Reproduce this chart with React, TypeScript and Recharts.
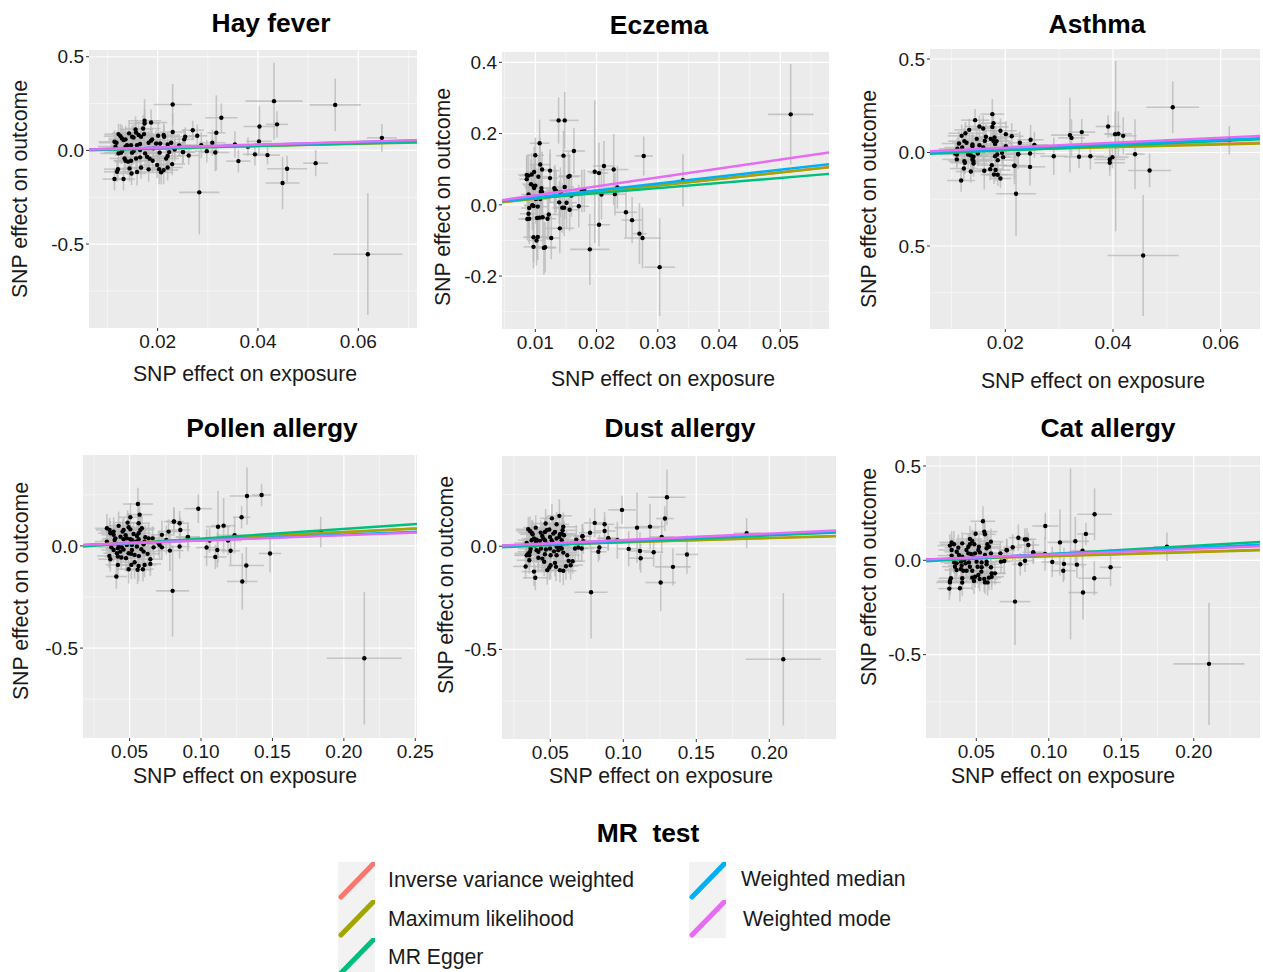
import React from "react";
import {
  CartesianGrid,
  ErrorBar,
  Scatter,
  ScatterChart,
  XAxis,
  YAxis,
} from "recharts";

// method names and colours, same order in every panel
const methods = [
  "Inverse variance weighted",
  "Maximum likelihood",
  "MR Egger",
  "Weighted median",
  "Weighted mode",
];
const methodColors = ["#F8766D", "#A3A500", "#00BF7D", "#00B0F6", "#E76BF3"];

// each point: [exposure, outcome, exposure error, outcome error]
const hayFeverPoints = [
  [.0114,-.153,.0024,.06],[.0132,-.153,.0023,.06],[.0119,-.114,.0026,.055],[.0121,-.1,.0028,.06],[.0144,-.096,.0027,.07],
  [.0148,-.123,.0029,.062],[.0159,-.115,.0025,.072],[.0167,-.091,.003,.06],[.0182,-.101,.0028,.066],[.0199,-.078,.0033,.07],
  [.0203,-.1,.0027,.08],[.0207,-.117,.0024,.065],[.0212,-.105,.0029,.075],[.022,-.091,.003,.07],[.0229,-.073,.0026,.06],
  [.0134,-.043,.003,.06],[.0136,-.055,.0024,.058],[.0141,-.06,.0027,.07],[.0147,-.055,.0032,.062],[.0157,-.043,.0026,.07],
  [.0165,-.037,.0029,.075],[.0179,-.034,.0031,.06],[.0184,-.044,.0028,.07],[.019,-.055,.0034,.066],[.0217,-.043,.0025,.06],
  [.022,-.03,.003,.075],[.0223,-.009,.0027,.07],[.0251,-.009,.0024,.06],[.0262,-.027,.0022,.05],[.0127,-.012,.0033,.06],
  [.0129,-.004,.0028,.068],[.0122,-.016,.0036,.055],[.0149,-.012,.0029,.066],[.0152,-.004,.0031,.07],[.0165,.002,.0026,.063],
  [.0175,-.016,.003,.07],[.0192,.011,.0033,.06],[.0204,-.012,.0028,.072],[.0234,.005,.0034,.065],[.0116,.02,.0035,.05],
  [.0118,.041,.0034,.06],[.0114,.046,.0032,.062],[.0122,.087,.0028,.055],[.0126,.076,.0033,.066],[.0129,.064,.0027,.07],
  [.0132,.055,.003,.06],[.0136,.059,.0025,.072],[.0143,.091,.0034,.065],[.0149,.073,.0029,.06],[.0152,.069,.0032,.07],
  [.0156,.112,.0031,.07],[.0157,.096,.0027,.063],[.0162,.082,.003,.068],[.0167,.073,.0028,.06],[.0171,.117,.0035,.072],
  [.0174,.158,.0033,.115],[.0174,.144,.0031,.075],[.0187,.149,.0032,.07],[.0173,.087,.0029,.066],[.0189,.059,.0027,.06],
  [.0187,.052,.0034,.07],[.0182,.041,.003,.062],[.0159,.028,.0027,.07],[.0165,.034,.0031,.066],[.0147,.028,.0029,.06],
  [.0139,.028,.0033,.068],[.0136,.02,.003,.06],[.0197,.037,.0028,.07],[.0205,.037,.0032,.06],[.0201,.078,.0027,.065],
  [.0212,.082,.003,.07],[.0213,.073,.0026,.06],[.022,.032,.0031,.066],[.0227,.041,.0028,.06],[.023,.098,.0026,.1],
  [.023,.245,.0038,.11],[.0432,.263,.0057,.205],[.0554,.243,.0051,.14],[.0647,.067,.003,.074],[.0327,.174,.0032,.077],
  [.0317,.094,.0018,.2],[.027,.108,.0022,.05],[.0279,.078,.002,.06],[.0255,.073,.0021,.05],[.0253,.059,.002,.055],
  [.0243,.027,.0023,.06],[.0234,.011,.003,.05],[.025,-.009,.0022,.06],[.0287,.028,.003,.07],[.0298,-.004,.0024,.06],
  [.0309,.041,.0026,.07],[.0315,-.011,.0028,.1],[.0354,.032,.0022,.07],[.0361,-.057,.0024,.06],[.038,.02,.002,.05],
  [.0394,-.021,.0024,.06],[.0402,.048,.0026,.07],[.0403,.128,.0032,.11],[.0419,-.025,.0025,.05],[.0438,.139,.0022,.07],
  [.0449,-.174,.0034,.14],[.0458,-.098,.004,.07],[.0515,-.068,.0025,.07],[.0283,-.224,.004,.224],[.0619,-.554,.0069,.325],
];

const eczemaPoints = [
  [.0517,.254,.0037,.141],[.0148,.237,.0023,.08],[.0138,.237,.0015,.065],[.0163,.151,.0018,.065],[.0107,.173,.0016,.066],
  [.01,.139,.0014,.05],[.0146,.138,.0012,.07],[.0108,.113,.0017,.075],[.0111,.099,.0014,.05],[.0086,.084,.0014,.055],
  [.0089,.082,.0015,.06],[.0094,.085,.0016,.06],[.0098,.092,.0014,.07],[.0124,.096,.0015,.06],[.0124,.075,.0013,.07],
  [.0105,.079,.0016,.06],[.0086,.072,.0012,.065],[.0093,.058,.0014,.07],[.0097,.053,.0016,.06],[.01,.054,.0013,.075],
  [.0098,.047,.0015,.06],[.011,.047,.0014,.07],[.0109,.037,.0016,.055],[.0111,.036,.0013,.07],[.0089,.029,.0012,.06],
  [.0131,.047,.0016,.06],[.0132,.042,.0014,.07],[.0134,.039,.0017,.06],[.0148,.05,.0015,.09],[.0154,.079,.0017,.07],
  [.0156,.081,.0018,.06],[.0141,.035,.0016,.07],[.0159,.026,.0018,.06],[.0101,.016,.0015,.07],[.0108,.016,.0013,.06],
  [.0139,.007,.0016,.06],[.0151,.006,.0017,.07],[.0144,-.008,.0016,.07],[.0147,-.008,.0015,.08],[.0156,-.014,.0016,.06],
  [.0171,-.004,.0017,.06],[.0095,-.001,.0014,.07],[.009,-.009,.0013,.06],[.0104,-.005,.0015,.075],[.0097,-.003,.0014,.06],
  [.0089,-.025,.0014,.07],[.0087,-.04,.0015,.06],[.009,-.039,.0013,.07],[.0103,-.037,.0015,.065],[.0107,-.036,.0014,.06],
  [.0112,-.035,.0015,.08],[.012,-.039,.0014,.06],[.0122,-.027,.0016,.07],[.014,-.066,.0023,.07],[.0126,-.093,.0014,.06],
  [.0097,-.091,.0017,.07],[.0104,-.09,.0016,.065],[.0102,-.1,.0014,.07],[.0097,-.118,.0016,.06],[.0114,-.121,.002,.075],
  [.0116,-.119,.0018,.07],[.0176,.039,.0017,.06],[.018,.04,.0022,.06],[.0197,.093,.0012,.2],[.0204,.089,.0015,.085],
  [.0212,.109,.0018,.07],[.0228,.099,.0024,.1],[.0234,.049,.002,.06],[.023,.03,.0017,.06],[.0208,.029,.0018,.07],
  [.0204,-.056,.0018,.06],[.0189,-.125,.0032,.1],[.0248,-.021,.0018,.07],[.0258,-.043,.0017,.065],[.027,-.081,.0012,.085],
  [.0275,-.093,.003,.085],[.0277,.137,.0015,.055],[.0303,-.175,.0025,.137],[.0341,.069,.001,.073],
];

const asthmaPoints = [
  [.0176,.205,.0022,.08],[.0144,.173,.0026,.06],[.0178,.157,.0024,.05],[.0176,.137,.003,.07],[.0152,.139,.0028,.06],
  [.0159,.128,.0026,.07],[.0133,.121,.0028,.06],[.0191,.116,.003,.065],[.0201,.098,.0024,.07],[.0212,.087,.0022,.07],
  [.0126,.103,.0032,.06],[.0119,.089,.0026,.06],[.0124,.061,.003,.07],[.0128,.052,.0027,.06],[.0114,.048,.0032,.065],
  [.0164,.084,.0029,.07],[.0147,.073,.0026,.06],[.0173,.073,.0031,.07],[.018,.08,.0028,.06],[.0162,.062,.0033,.07],
  [.0178,.061,.003,.07],[.0184,.061,.0027,.06],[.0181,.046,.0033,.07],[.0152,.039,.0029,.06],[.0159,.027,.0032,.07],
  [.0139,.043,.0027,.065],[.0139,.034,.0031,.06],[.0227,.052,.0022,.06],[.0247,.068,.0024,.08],[.0254,.041,.0026,.07],
  [.0201,.034,.003,.06],[.012,.027,.0033,.07],[.0111,.02,.0034,.06],[.0107,-.005,.003,.05],[.011,-.011,.0032,.065],
  [.0131,-.011,.003,.07],[.0136,-.016,.0033,.06],[.0149,-.005,.0028,.07],[.0141,-.023,.0031,.065],[.0194,-.002,.0026,.06],
  [.0185,-.011,.003,.07],[.0181,-.02,.0028,.06],[.0224,-.009,.0022,.08],[.0246,-.005,.0028,.07],[.011,-.037,.0027,.05],
  [.0124,-.046,.003,.065],[.0125,-.055,.0027,.06],[.0139,-.037,.0032,.07],[.0141,-.046,.0029,.06],[.0141,-.059,.0026,.07],
  [.0186,-.041,.003,.06],[.0196,-.025,.0024,.07],[.0175,-.068,.0028,.065],[.0217,-.071,.002,.07],[.0246,-.077,.0028,.1],
  [.0123,-.086,.0026,.06],[.0136,-.102,.0028,.06],[.0161,-.098,.0029,.1],[.0172,-.089,.0024,.06],[.0182,-.094,.0028,.06],
  [.0179,-.118,.0025,.05],[.0186,-.119,.0028,.06],[.0191,-.139,.002,.05],[.0118,-.15,.0026,.06],[.022,-.221,.0037,.225],
  [.0511,.242,.0049,.138],[.0616,.066,.003,.076],[.0456,-.551,.0066,.324],[.0405,.034,.002,.455],[.0404,.098,.002,.12],[.041,.1,.0025,.12],
  [.0419,.089,.0025,.1],[.0391,.139,.0023,.06],[.0342,.109,.0025,.07],[.032,.093,.0035,.2],[.0323,.078,.0025,.1],
  [.029,-.02,.0025,.1],[.0337,-.023,.0028,.06],[.0358,-.02,.0026,.07],[.0394,-.037,.0029,.06],[.0394,-.055,.0028,.07],
  [.0399,-.025,.003,.06],[.0441,-.009,.0018,.187],[.0468,-.096,.004,.09],[.0217,-.07,.0028,.1],[.0224,-.009,.002,.07],
];

const pollenPoints = [
  [.0558,.205,.0105,.08],[.0981,.182,.0097,.07],[.057,.153,.009,.07],[.0505,.14,.0085,.07],[.081,.119,.007,.06],
  [.085,.111,.0065,.06],[.0563,.111,.008,.07],[.0486,.114,.0095,.06],[.0423,.098,.0085,.07],[.0341,.086,.0085,.07],
  [.036,.078,.0095,.06],[.0365,.062,.0085,.06],[.0388,.07,.009,.07],[.0458,.078,.008,.06],[.0493,.091,.0095,.07],
  [.0505,.081,.009,.06],[.0451,.07,.0085,.06],[.0575,.078,.0095,.07],[.0586,.086,.009,.06],[.0563,.062,.0085,.07],
  [.0551,.049,.009,.065],[.061,.042,.0075,.06],[.0855,.078,.007,.06],[.0773,.07,.0075,.06],[.0726,.054,.008,.07],
  [.0908,.042,.0085,.07],[.0388,.054,.0085,.06],[.04,.037,.009,.07],[.0395,.029,.0095,.06],[.0341,.021,.0085,.06],
  [.0458,.033,.0095,.07],[.0481,.037,.0085,.06],[.0505,.033,.0095,.065],[.0516,.029,.009,.07],[.0563,.033,.0085,.06],
  [.0633,.037,.009,.07],[.0661,.037,.0085,.06],[.0703,.013,.009,.06],[.0757,.029,.0075,.07],[.0423,.005,.0095,.07],
  [.0481,.005,.009,.06],[.0516,.005,.0095,.07],[.0551,-.003,.0085,.06],[.0598,.008,.009,.065],[.0372,-.007,.009,.07],
  [.0388,-.02,.0085,.06],[.0418,-.011,.0085,.07],[.0446,-.007,.0095,.06],[.0516,-.02,.0095,.07],[.0582,-.016,.0085,.06],
  [.0598,-.028,.009,.065],[.0668,-.007,.0085,.06],[.071,.005,.0085,.07],[.0726,-.007,.0085,.06],[.0782,-.023,.0095,.1],
  [.085,-.003,.0075,.06],[.0358,-.049,.0085,.06],[.0365,-.065,.0085,.06],[.0411,-.036,.0095,.07],[.0435,-.028,.009,.06],
  [.0418,-.052,.0095,.07],[.0442,-.057,.0085,.06],[.0493,-.036,.0095,.065],[.0512,-.039,.0085,.06],[.0535,-.044,.0095,.07],
  [.0626,-.039,.008,.07],[.0645,-.065,.0085,.065],[.0645,-.088,.0075,.06],[.0418,-.093,.0085,.07],[.0512,-.093,.009,.07],
  [.0535,-.08,.0095,.08],[.0563,-.098,.0085,.075],[.0605,-.093,.0085,.06],[.0493,-.114,.0085,.07],[.0556,-.117,.0095,.07],
  [.0593,-.114,.0075,.06],[.0407,-.15,.0075,.06],[.0801,-.22,.0116,.224],[.2143,-.55,.0263,.324],[.1838,.068,.015,.075],
  [.1424,.249,.0067,.055],[.1322,.244,.012,.14],[.1284,.14,.006,.055],[.1158,.099,.0085,.136],[.1119,.094,.0085,.175],
  [.1483,-.037,.0078,.092],[.1317,-.096,.0123,.09],[.1289,-.174,.0107,.138],[.1207,-.024,.0065,.07],[.11,-.054,.008,.06],
  [.1114,-.02,.0065,.085],[.1039,-.008,.0075,.09],[.1235,.052,.012,.09],[.1189,.026,.0095,.07],[.106,.026,.01,.06],
  [.0908,.044,.0085,.06],[.081,.12,.0055,.07],
  [.0472,.052,.009,.065],[.0528,.058,.0085,.06],[.0436,.045,.009,.07],[.0542,.02,.0085,.065],[.0605,.02,.009,.07],
  [.0458,-.018,.0095,.06],[.0565,-.05,.009,.07],[.0475,-.06,.0085,.065],
];

const dustPoints = [
  [.0562,.147,.0085,.08],[.0511,.135,.008,.07],[.0804,.113,.0075,.07],[.0872,.106,.0065,.06],[.0468,.11,.009,.07],
  [.0543,.106,.0085,.06],[.0589,.094,.0095,.07],[.0872,.074,.0075,.065],[.0772,.065,.0075,.07],[.04,.09,.0085,.06],
  [.0349,.082,.0085,.06],[.0361,.074,.0095,.07],[.0372,.065,.009,.06],[.0379,.058,.0085,.07],[.0434,.066,.0095,.06],
  [.0463,.069,.0085,.065],[.0475,.077,.009,.07],[.0493,.081,.0085,.06],[.0521,.061,.0095,.07],[.0532,.069,.0085,.06],
  [.0584,.077,.009,.065],[.0578,.061,.0095,.07],[.0566,.058,.0085,.06],[.0594,.053,.009,.07],[.0562,.045,.0085,.06],
  [.0719,.048,.0065,.06],[.0897,.037,.0075,.06],[.0338,.016,.0085,.07],[.0372,.029,.0095,.06],[.0388,.037,.0085,.07],
  [.0406,.032,.0095,.06],[.0429,.026,.0085,.065],[.0452,.037,.009,.07],[.0463,.029,.0085,.06],[.0498,.045,.0095,.07],
  [.0509,.029,.0085,.06],[.0543,.037,.009,.065],[.0578,.029,.0085,.07],[.0402,.021,.0095,.06],[.0678,.032,.0075,.07],
  [.0726,.024,.0085,.06],[.0361,-.027,.0085,.07],[.0349,-.035,.0095,.06],[.0338,-.044,.0085,.065],[.0356,-.044,.0095,.07],
  [.0406,-.019,.0085,.06],[.0418,-.027,.009,.07],[.0436,-.011,.0085,.06],[.047,-.016,.0095,.07],[.0498,-.011,.0085,.065],
  [.0543,-.003,.009,.07],[.0566,-.003,.0085,.06],[.0578,-.011,.0095,.07],[.0555,-.019,.0085,.06],[.0669,-.011,.0085,.07],
  [.0692,-.006,.0075,.06],[.0715,-.011,.0085,.06],[.0836,-.006,.0055,.06],[.0829,-.027,.0055,.05],[.0418,-.056,.0095,.07],
  [.0445,-.06,.0085,.06],[.0356,-.068,.0085,.065],[.0463,-.039,.009,.07],[.0502,-.044,.0085,.06],[.0543,-.044,.0095,.07],
  [.0589,-.031,.0085,.065],[.0616,-.044,.0085,.07],[.0502,-.092,.009,.07],[.0493,-.103,.0085,.06],[.0479,-.116,.0085,.07],
  [.0532,-.081,.0095,.065],[.0539,-.1,.0085,.07],[.0566,-.116,.0085,.06],[.0589,-.119,.009,.07],[.0607,-.097,.0085,.065],
  [.0639,-.092,.0085,.07],[.0626,-.071,.0095,.06],[.0653,-.073,.0085,.06],[.0331,-.098,.0085,.06],[.0388,-.123,.0085,.07],
  [.0397,-.153,.0085,.06],[.0779,-.223,.0113,.224],[.2096,-.548,.0257,.321],[.1845,.063,.009,.073],[.1299,.237,.0128,.135],
  [.1285,.134,.006,.06],[.1183,.095,.0095,.11],[.1094,.09,.0155,.17],[.0991,.176,.0094,.069],[.1263,.045,.0085,.08],
  [.0959,.029,.0085,.09],[.0897,.039,.0075,.06],[.1114,-.023,.0075,.09],[.1037,-.013,.0075,.085],[.1119,-.058,.0085,.07],
  [.1208,-.029,.0065,.07],[.1436,-.04,.0077,.093],[.134,-.1,.0122,.09],[.1256,-.176,.0104,.139],[.0721,.048,.0055,.06],
  [.0445,.05,.009,.065],[.0515,.02,.0085,.07],[.0475,.012,.0095,.06],[.0395,.004,.009,.065],[.0365,-.012,.0085,.07],
  [.0525,-.025,.009,.06],[.0458,-.075,.0085,.07],
];

const catPoints = [
  [.0546,.207,.0085,.08],[.0555,.152,.009,.07],[.0495,.141,.0085,.06],[.056,.138,.0075,.06],[.0456,.113,.0085,.07],
  [.0472,.102,.009,.06],[.0601,.099,.0085,.07],[.079,.12,.0065,.07],[.0849,.111,.0065,.06],[.0859,.081,.0075,.065],
  [.0751,.069,.0065,.07],[.033,.095,.0085,.06],[.0346,.085,.0095,.07],[.0318,.078,.0085,.06],[.033,.055,.009,.065],
  [.0376,.067,.0095,.07],[.0403,.09,.0085,.06],[.0445,.072,.009,.07],[.0456,.085,.0085,.06],[.0486,.085,.0095,.07],
  [.0518,.072,.0085,.065],[.0576,.085,.009,.07],[.0587,.072,.0085,.06],[.0571,.064,.0095,.07],[.0514,.055,.0085,.06],
  [.0709,.055,.0055,.06],[.0893,.042,.0075,.06],[.033,.025,.0095,.06],[.038,.028,.0085,.07],[.0403,.019,.009,.06],
  [.0445,.037,.0085,.07],[.0463,.034,.0095,.06],[.0491,.037,.0085,.065],[.0525,.042,.009,.07],[.056,.028,.0085,.06],
  [.0666,.037,.0075,.06],[.0601,.037,.0085,.07],[.0348,-.011,.0095,.06],[.0364,-.016,.0085,.07],[.0394,-.007,.009,.06],
  [.0417,.002,.0085,.065],[.0426,-.016,.0095,.07],[.0449,-.011,.0085,.06],[.0353,-.034,.009,.07],[.0364,-.051,.0085,.06],
  [.0399,-.028,.0095,.07],[.0394,-.046,.0085,.065],[.041,-.055,.0085,.07],[.0433,-.055,.0095,.06],[.0456,-.034,.0085,.07],
  [.0502,-.007,.009,.06],[.0537,-.011,.0085,.07],[.0571,-.007,.0095,.06],[.0509,-.034,.0085,.065],[.0537,-.037,.009,.07],
  [.0571,-.021,.0085,.06],[.067,-.007,.0065,.06],[.0693,-.004,.0065,.07],[.0803,-.021,.0055,.06],[.0836,-.002,.0065,.06],
  [.0601,-.037,.0085,.07],[.0606,-.069,.0085,.065],[.0629,-.069,.0075,.06],[.0606,-.087,.0085,.07],[.0325,-.095,.0085,.06],
  [.0318,-.11,.0085,.065],[.0318,-.117,.0095,.07],[.0403,-.095,.0085,.06],[.0403,-.118,.0085,.07],[.0472,-.092,.009,.065],
  [.0484,-.11,.0085,.07],[.0491,-.087,.0095,.06],[.0514,-.078,.0085,.07],[.0523,-.099,.0085,.065],[.0555,-.099,.0095,.07],
  [.056,-.117,.0085,.06],[.0578,-.117,.009,.07],[.0587,-.092,.0085,.065],[.0314,-.15,.0075,.06],[.0387,-.148,.0085,.07],
  [.0767,-.219,.0106,.23],[.2105,-.549,.0245,.324],[.1815,.072,.009,.075],[.1316,.244,.012,.137],[.1256,.14,.006,.06],
  [.1183,.101,.0095,.13],[.1077,.095,.0085,.175],[.115,.034,.0045,.453],[.0976,.182,.009,.071],[.1233,.051,.0085,.09],
  [.0893,.042,.0065,.06],[.0974,.034,.0085,.09],[.1024,-.009,.0075,.08],[.1105,-.019,.0065,.085],[.11,-.055,.0085,.06],
  [.1194,-.023,.0065,.07],[.1426,-.037,.0075,.1],[.1314,-.095,.011,.09],[.1236,-.171,.01,.143],[.0711,.053,.0055,.06],
  [.0835,.11,.006,.06],[.0432,.055,.009,.065],[.0365,.045,.0085,.07],[.0478,.015,.0095,.06],[.0345,.005,.009,.07],
  [.0472,-.055,.0085,.065],[.0535,-.06,.009,.07],
];

// fitted lines: one [startY, endY] per method, drawn across the x range of the panel
const hayFeverLines = [[.004,.046],[.004,.042],[.001,.044],[.005,.053],[.005,.055]];
const eczemaLines = [[.0075,.106],[.0075,.105],[.0103,.087],[.01,.114],[.013,.147]];
const asthmaLines = [[.005,.052],[.004,.048],[-.007,.071],[.003,.077],[.007,.089]];
const pollenLines = [[.004,.086],[.003,.085],[-.003,.107],[.004,.07],[.005,.065]];
const dustLines = [[.002,.05],[.002,.048],[-.005,.066],[.001,.072],[.003,.076]];
const catLines = [[.004,.056],[.003,.053],[-.005,.097],[.002,.083],[.005,.074]];

const panels = [
  {
    title: "Hay fever", points: hayFeverPoints, lines: hayFeverLines,
    xDomain: [.00632, .0717], yDomain: [-.948, .536],
    xTicks: [.02, .04, .06], xLabels: ["0.02", "0.04", "0.06"], xMinor: [.01, .03, .05, .07],
    yTicks: [.5, 0, -.5], yLabels: ["0.5", "0.0", "-0.5"], yMinor: [.25, -.25, -.75],
    plot: [89, 50, 328, 278], titleAt: [271, 23], xTitleAt: [245, 374], yTitleAt: [20, 189],
  },
  {
    title: "Eczema", points: eczemaPoints, lines: eczemaLines,
    xDomain: [.00456, .05795], yDomain: [-.3486, .429],
    xTicks: [.01, .02, .03, .04, .05], xLabels: ["0.01", "0.02", "0.03", "0.04", "0.05"], xMinor: [.005, .015, .025, .035, .045, .055],
    yTicks: [.4, .2, 0, -.2], yLabels: ["0.4", "0.2", "0.0", "-0.2"], yMinor: [.3, .1, -.1, -.3],
    plot: [502, 52, 327, 277], titleAt: [659, 25], xTitleAt: [663, 379], yTitleAt: [443, 197],
  },
  {
    title: "Asthma", points: asthmaPoints, lines: asthmaLines,
    xDomain: [.00602, .0673], yDomain: [-.944, .5535],
    xTicks: [.02, .04, .06], xLabels: ["0.02", "0.04", "0.06"], xMinor: [.01, .03, .05],
    yTicks: [.5, 0, -.5], yLabels: ["0.5", "0.0", "0.5"], yMinor: [.25, -.25, -.75],
    plot: [930, 49, 330, 280], titleAt: [1097, 24], xTitleAt: [1093, 381], yTitleAt: [869, 199],
  },
  {
    title: "Pollen allergy", points: pollenPoints, lines: pollenLines,
    xDomain: [.01737, .2512], yDomain: [-.94, .4448],
    xTicks: [.05, .1, .15, .2, .25], xLabels: ["0.05", "0.10", "0.15", "0.20", "0.25"], xMinor: [.025, .075, .125, .175, .225],
    yTicks: [0, -.5], yLabels: ["0.0", "-0.5"], yMinor: [.25, -.25, -.75],
    plot: [83, 455, 334, 283], titleAt: [272, 428], xTitleAt: [245, 776], yTitleAt: [21, 591],
  },
  {
    title: "Dust allergy", points: dustPoints, lines: dustLines,
    xDomain: [.0169, .2457], yDomain: [-.934, .437],
    xTicks: [.05, .1, .15, .2], xLabels: ["0.05", "0.10", "0.15", "0.20"], xMinor: [.025, .075, .125, .175, .225],
    yTicks: [0, -.5], yLabels: ["0.0", "-0.5"], yMinor: [.25, -.25, -.75],
    plot: [502, 456, 334, 283], titleAt: [680, 428], xTitleAt: [661, 776], yTitleAt: [446, 585],
  },
  {
    title: "Cat allergy", points: catPoints, lines: catLines,
    xDomain: [.0153, .2457], yDomain: [-.942, .553],
    xTicks: [.05, .1, .15, .2], xLabels: ["0.05", "0.10", "0.15", "0.20"], xMinor: [.025, .075, .125, .175, .225],
    yTicks: [.5, 0, -.5], yLabels: ["0.5", "0.0", "-0.5"], yMinor: [.25, -.25, -.75],
    plot: [926, 456, 334, 282], titleAt: [1108, 428], xTitleAt: [1063, 776], yTitleAt: [869, 577],
  },
];

const FONT = "'Liberation Sans', Arial, sans-serif";
const AXIS_LEFT = 80;
const AXIS_BOTTOM = 40;
const PAD_TOP = 10;
const PAD_RIGHT = 25;

function Dot(props: any) {
  return <circle cx={props.cx} cy={props.cy} r={2.2} fill="#000" />;
}

function NoDot() {
  return <g />;
}

function Caption({ at, size, bold, rotate, children }: any) {
  return (
    <div
      style={{
        position: "absolute",
        left: at[0],
        top: at[1],
        transform: `translate(-50%, -50%)${rotate ? " rotate(-90deg)" : ""}`,
        fontFamily: FONT,
        fontSize: size,
        fontWeight: bold ? 700 : 400,
        color: bold ? "#000" : "#1a1a1a",
        whiteSpace: "pre",
      }}
    >
      {children}
    </div>
  );
}

function Panel({ panel }: { panel: (typeof panels)[number] }) {
  const [left, top, w, h] = panel.plot;
  const pointData = panel.points.map(([x, y, xe, ye]) => ({ x, y, xe, ye }));
  const tickStyle = { fill: "#1a1a1a", fontSize: 19, fontFamily: FONT };

  return (
    <div style={{ position: "absolute", left: left - AXIS_LEFT, top: top - PAD_TOP }}>
      <ScatterChart
        width={w + AXIS_LEFT + PAD_RIGHT}
        height={h + PAD_TOP + AXIS_BOTTOM}
        margin={{ top: PAD_TOP, right: PAD_RIGHT, bottom: 0, left: 0 }}
      >
        <CartesianGrid
          fill="#EBEBEB"
          stroke="#fff"
          strokeWidth={0.6}
          strokeOpacity={0.8}
          horizontalValues={panel.yMinor}
          verticalValues={panel.xMinor}
        />
        <CartesianGrid
          stroke="#fff"
          strokeWidth={1.2}
          horizontalValues={panel.yTicks}
          verticalValues={panel.xTicks}
        />
        <XAxis
          type="number"
          dataKey="x"
          domain={panel.xDomain}
          ticks={panel.xTicks}
          interval={0}
          allowDataOverflow
          height={AXIS_BOTTOM}
          axisLine={false}
          tickSize={3}
          tickMargin={4}
          tickLine={{ stroke: "#333" }}
          tick={tickStyle}
          tickFormatter={(v: number) => panel.xLabels[panel.xTicks.indexOf(v)]}
        />
        <YAxis
          type="number"
          dataKey="y"
          domain={panel.yDomain}
          ticks={panel.yTicks}
          interval={0}
          allowDataOverflow
          width={AXIS_LEFT}
          axisLine={false}
          tickSize={3}
          tickMargin={2}
          tickLine={{ stroke: "#333" }}
          tick={tickStyle}
          tickFormatter={(v: number) => panel.yLabels[panel.yTicks.indexOf(v)]}
        />
        <Scatter data={pointData} shape={Dot} fill="#000" isAnimationActive={false}>
          <ErrorBar dataKey="xe" direction="x" width={0} stroke="#b8b8b8" strokeOpacity={0.75} strokeWidth={1.6} isAnimationActive={false} />
          <ErrorBar dataKey="ye" direction="y" width={0} stroke="#b8b8b8" strokeOpacity={0.75} strokeWidth={1.6} isAnimationActive={false} />
        </Scatter>
        {panel.lines.map((ends, i) => (
          <Scatter
            key={methods[i]}
            name={methods[i]}
            data={[
              { x: panel.xDomain[0], y: ends[0] },
              { x: panel.xDomain[1], y: ends[1] },
            ]}
            fill={methodColors[i]}
            line={{ stroke: methodColors[i], strokeWidth: 2.4 }}
            shape={NoDot}
            isAnimationActive={false}
          />
        ))}
      </ScatterChart>
    </div>
  );
}

function LegendKey({ left, top, color }: { left: number; top: number; color: string }) {
  return (
    <svg style={{ position: "absolute", left, top }} width={37} height={38}>
      <rect width={37} height={38} fill="#F2F2F2" />
      <line x1={3} y1={35} x2={40} y2={-3} stroke={color} strokeWidth={5} strokeLinecap="round" />
    </svg>
  );
}

// legend rows: key left, key top, text left, text centre
const legendRows = [
  [338, 862, 388, 880],
  [338, 900, 388, 919],
  [338, 938, 388, 957],
  [689, 862, 741, 879],
  [689, 900, 743, 919],
];

export default function App() {
  return (
    <div
      style={{
        position: "absolute",
        left: 0,
        top: 0,
        width: 1263,
        height: 972,
        overflow: "hidden",
        background: "#fff",
      }}
    >
      {panels.map((p) => (
        <React.Fragment key={p.title}>
          <Panel panel={p} />
          <Caption at={p.titleAt} size={26.4} bold>{p.title}</Caption>
          <Caption at={p.xTitleAt} size={21.3} >SNP effect on exposure</Caption>
          <Caption at={p.yTitleAt} size={21.3} rotate>SNP effect on outcome</Caption>
        </React.Fragment>
      ))}
      <Caption at={[648, 833]} size={26.4} bold>{"MR  test"}</Caption>
      {methods.map((m, i) => {
        const [keyLeft, keyTop, textLeft, textMid] = legendRows[i];
        return (
          <React.Fragment key={m}>
            <LegendKey left={keyLeft} top={keyTop} color={methodColors[i]} />
            <div
              style={{
                position: "absolute",
                left: textLeft,
                top: textMid,
                transform: "translateY(-50%)",
                fontFamily: FONT,
                fontSize: 21.2,
                color: "#1a1a1a",
                whiteSpace: "pre",
              }}
            >
              {m}
            </div>
          </React.Fragment>
        );
      })}
    </div>
  );
}
